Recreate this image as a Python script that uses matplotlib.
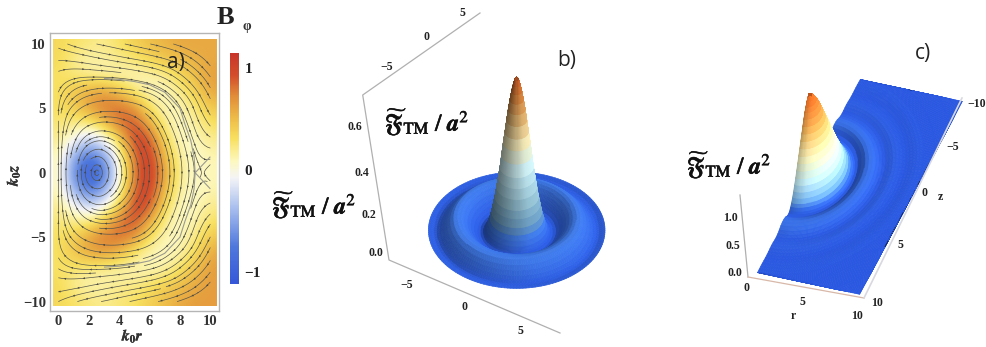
import numpy as np
import matplotlib
matplotlib.use('Agg')
import matplotlib.pyplot as plt
from matplotlib.colors import LinearSegmentedColormap, Normalize
from matplotlib.patches import Rectangle
from matplotlib.patheffects import withStroke
from mpl_toolkits.mplot3d import Axes3D

plt.rcParams['mathtext.fontset'] = 'stix'
plt.rcParams['font.family'] = 'Liberation Serif'

W, H = 986, 347

# panel a: B_phi, rows from z=10 down to z=-10
r_grid = [0, 1, 2, 3, 4, 5, 6, 7, 8, 9, 10]
z_grid = [10, 8.75, 7.5, 6.25, 5, 3.75, 2.5, 1.25, 0, -1.25, -2.5, -3.75, -5, -6.25, -7.5, -8.75, -10]
b_phi = [
    [.35, .30, .25, .20, .30, .40, .50, .55, .60, .60, .60],
    [.35, .20, .12, .15, .20, .25, .35, .45, .50, .55, .60],
    [.30, .25, .20, .15, .12, .10, .12, .18, .35, .50, .65],
    [.30, .45, .60, .65, .50, .25, .10, .08, .20, .40, .60],
    [.30, .40, .62, .80, .85, .70, .30, .10, .10, .25, .45],
    [.25, .20, .20, .42, .80, .95, .60, .18, .07, .15, .30],
    [.20, -.05, -.30, -.10, .35, 1.00, .95, .35, .07, .08, .20],
    [.12, -.45, -.80, -.55, .05, .85, 1.05, .50, .15, .05, .12],
    [.10, -.60, -1.05, -.75, -.05, .80, 1.10, .60, .18, .05, .10],
    [.12, -.45, -.80, -.55, .05, .85, 1.05, .50, .15, .05, .12],
    [.20, -.05, -.30, -.10, .35, 1.00, .95, .35, .07, .08, .20],
    [.25, .20, .20, .42, .80, .95, .60, .18, .07, .12, .30],
    [.30, .40, .62, .80, .85, .70, .30, .10, .08, .22, .45],
    [.30, .45, .60, .65, .50, .25, .10, .07, .12, .35, .60],
    [.30, .25, .20, .15, .12, .10, .10, .15, .30, .50, .65],
    [.35, .20, .12, .15, .20, .22, .30, .40, .50, .60, .65],
    [.35, .30, .25, .20, .25, .30, .40, .50, .60, .65, .65],
]
# stream function of the field lines, same grid
psi_lines = [
    [1.20, 1.24, 1.28, 1.30, 1.33, 1.36, 1.39, 1.42, 1.46, 1.50, 1.53],
    [1.12, 1.12, 1.15, 1.17, 1.20, 1.22, 1.25, 1.28, 1.33, 1.40, 1.47],
    [1.05, 1.02, 1.02, 1.02, 1.03, 1.05, 1.08, 1.12, 1.20, 1.30, 1.40],
    [1.02, .95, .90, .88, .88, .90, .93, 1.00, 1.08, 1.18, 1.32],
    [1.00, .85, .75, .72, .72, .75, .80, .90, 1.00, 1.12, 1.25],
    [1.00, .70, .55, .52, .55, .62, .72, .83, .96, 1.08, 1.18],
    [1.00, .55, .32, .32, .40, .50, .63, .77, .90, 1.04, 1.08],
    [1.00, .42, .12, .18, .30, .43, .57, .72, .87, 1.01, 1.00],
    [1.00, .35, .02, .10, .25, .40, .55, .70, .85, 1.00, .95],
    [1.00, .42, .12, .18, .30, .43, .57, .72, .87, 1.01, 1.00],
    [1.00, .55, .32, .32, .40, .50, .63, .77, .90, 1.04, 1.08],
    [1.00, .70, .55, .52, .55, .62, .72, .83, .96, 1.08, 1.18],
    [1.00, .85, .75, .72, .72, .75, .80, .90, 1.00, 1.12, 1.25],
    [1.02, .95, .90, .88, .88, .90, .93, 1.00, 1.08, 1.18, 1.32],
    [1.05, 1.02, 1.02, 1.02, 1.03, 1.05, 1.08, 1.12, 1.20, 1.30, 1.40],
    [1.12, 1.12, 1.15, 1.17, 1.20, 1.22, 1.25, 1.28, 1.33, 1.40, 1.47],
    [1.20, 1.24, 1.28, 1.30, 1.33, 1.36, 1.39, 1.42, 1.46, 1.50, 1.53],
]
a_xticks = [0, 2, 4, 6, 8, 10]
a_yticks = [-10, -5, 0, 5, 10]
cbar_ticks = [-1, 0, 1]

# panel b: radial profile of the surface
rho_b = [0, .15, .3, .45, .6, .75, .9, 1.05, 1.2, 1.35, 1.5, 1.65, 1.8, 1.95, 2.1, 2.25, 2.4, 2.55, 2.7, 2.85,
         3.0, 3.3, 3.6, 3.9, 4.2, 4.5, 4.8, 5.1, 5.4, 5.7, 6.0, 6.3, 6.6, 6.9, 7.2, 7.5, 7.8, 8.0]
f_b = [.700, .692, .668, .638, .600, .558, .510, .458, .410, .356, .300, .256, .212, .168, .135, .100, .072, .050,
       .030, .016, .008, .006, .012, .024, .038, .052, .064, .070, .072, .068, .056, .042, .028, .016, .010, .012,
       .016, .016]

# panel c: radial profile, cut along r=0 and by the square edges
rho_c = [0, .2, .4, .6, .8, 1.0, 1.2, 1.4, 1.6, 1.8, 2.0, 2.2, 2.4, 2.6, 2.8, 3.0, 3.2, 3.4, 3.6, 3.8, 4.0, 4.3, 4.6,
         4.9, 5.2, 5.5, 5.8, 6.1, 6.4, 6.7, 7.0, 7.3, 7.6, 7.9, 8.2, 8.5, 8.8, 9.1, 9.4, 9.7, 10.0, 11.0, 12.5, 14.2]
f_c = [1.20, 1.18, 1.15, 1.10, 1.05, .98, .90, .82, .74, .66, .58, .50, .42, .34, .27, .20, .14, .09, .05, .02, .01,
       .02, .05, .06, .06, .05, .03, .015, .008, .010, .016, .018, .014, .008, .004, .004, .006, .008, .008, .006,
       .004, .002, 0, 0]

b_ticks_z = ['0.6', '0.4', '0.2', '0.0']
b_ticks_top = ['\u22125', '0', '5']
b_ticks_bottom = ['\u22125', '0', '5']
c_ticks_z = ['1.0', '0.5', '0.0']
c_ticks_r = ['0', '5', '10']
c_ticks_z_right = ['10', '5', '0', '\u22125', '\u221210']

bphi_cmap = LinearSegmentedColormap.from_list('bphi', [
    (0.00, '#3557d8'), (0.16, '#4f78dc'), (0.33, '#a9bfee'), (0.46, '#f4f4f6'), (0.53, '#fdf8c0'),
    (0.63, '#f8e060'), (0.72, '#edbb48'), (0.82, '#e08a38'), (0.90, '#d4502c'), (1.00, '#c8352a')])
surf_cmap_b = LinearSegmentedColormap.from_list('surfb', [
    (0.00, '#2a58dc'), (0.10, '#3f7ae8'), (0.16, '#6598c0'), (0.30, '#93bfd0'), (0.50, '#c8ecf4'),
    (0.66, '#efe3b0'), (0.80, '#d9ad6c'), (0.93, '#cc7a36'), (1.00, '#c8602a')])
surf_cmap_c = LinearSegmentedColormap.from_list('surfc', [
    (0.00, '#2a58e0'), (0.05, '#3a72e8'), (0.12, '#78b8f2'), (0.28, '#c4eef8'), (0.50, '#f6f0b8'),
    (0.72, '#f2bc60'), (1.00, '#e86c24')])


def axes_px(fig, x0, y0, x1, y1):
    # y measured from the top of the picture
    return fig.add_axes([x0 / W, 1 - y1 / H, (x1 - x0) / W, (y1 - y0) / H])


def add_3d(fig, cx, cy, side, box_px, elev, azim):
    # square 3D axes whose box edges come out at box_px pixels, box centre at (cx, cy)
    left = cx - 0.5135 * side
    top = cy - (1 - 0.5135) * side
    ax = fig.add_axes([left / W, 1 - (top + side) / H, side / W, side / H], projection='3d', proj_type='ortho')
    ax.set_box_aspect(box_px, zoom=np.linalg.norm(box_px) / (1.0301 * side))
    ax.view_init(elev=elev, azim=azim)
    ax.set_axis_off()
    ax.patch.set_alpha(0)
    return ax


def shaded_colors(X, Y, Z, cmap, zmax, light, sx, sy, sz):
    # colour by height, then darken or lighten by the surface normal
    dzdi, dzdj = np.gradient(Z * sz)
    dxdi, dxdj = np.gradient(X * sx)
    dydi, dydj = np.gradient(Y * sy)
    n = np.cross(np.stack([dxdi, dydi, dzdi], -1), np.stack([dxdj, dydj, dzdj], -1))
    n /= np.maximum(np.linalg.norm(n, axis=-1, keepdims=True), 1e-9)
    n = n * np.sign(n[..., 2:3] + 1e-12)
    shade = 0.8 + 0.2 * n[..., 2] + light[0] * n[..., 0] + light[1] * n[..., 1]
    shade = np.where(shade > 1, 1 + (shade - 1) * 0.4, shade)
    shade = np.clip(shade, 0.5, 1.2)
    rgba = cmap(np.clip(Z / zmax, 0, 1))
    rgb = rgba[..., :3] * shade[..., None]
    rgba[..., :3] = np.clip(rgb, 0, 1)
    return rgba


def draw_surface(ax, X, Y, Z, colors):
    surf = ax.plot_surface(X, Y, Z, facecolors=colors, rstride=1, cstride=1, shade=False, linewidth=0.5)
    # edges in the same colour as the faces, else hairlines show between facets
    surf.set_edgecolor(colors[:-1, :-1].reshape(-1, 4))
    return surf


fig = plt.figure(figsize=(W / 100, H / 100), dpi=100)

# ---- panel a
ax = axes_px(fig, 50, 33, 219, 311)
B = np.array(b_phi)[::-1]
z_up = np.array(z_grid)[::-1]
r_arr = np.array(r_grid, dtype=float)
norm = Normalize(-1.12, 1.15)
im = ax.imshow(B, origin='lower', extent=[-.5, 10.5, -10.625, 10.625], cmap=bphi_cmap, norm=norm,
               interpolation='bicubic', aspect='auto')
im.set_clip_path(Rectangle((-.33, -10.35), 10.73, 20.7, transform=ax.transData))
psi = np.array(psi_lines)[::-1]
dpsi_dz, dpsi_dr = np.gradient(psi, z_up, r_arr)
sp = ax.streamplot(r_arr, z_up, dpsi_dz, -dpsi_dr, density=(1.1, 1.6), color='#55554c', linewidth=0.5,
                   arrowsize=0.01, minlength=0.2)
# small arrowheads at regular steps along the field lines
ax_pts, ax_dir = [], []
for line in sp.lines.get_segments():
    if len(line) < 2:
        continue
    step = np.diff(line, axis=0)
    dist = np.cumsum(np.hypot(step[:, 0], step[:, 1]))
    for d in np.arange(0.6, dist[-1], 1.2):
        i = min(np.searchsorted(dist, d), len(step) - 1)
        ax_pts.append(line[i])
        ax_dir.append(step[i] / max(np.hypot(*step[i]), 1e-9))
ax_pts = np.array(ax_pts)
ax_dir = np.array(ax_dir)
ax.quiver(ax_pts[:, 0], ax_pts[:, 1], ax_dir[:, 0], ax_dir[:, 1], angles='xy', pivot='mid', scale=70, width=0.009,
          headwidth=3, headlength=3.5, headaxislength=3, color='#2e2e2a')
ax.contour(r_arr[3:], z_up, psi[:, 3:], levels=[1.0], colors='#9a9a90', linewidths=0.8)
ax.set_xlim(-.55, 10.57)
ax.set_ylim(-10.73, 10.85)
ax.set_xticks(a_xticks)
ax.set_yticks(a_yticks)
ax.set_yticklabels([str(t).replace('-', '\u2212') for t in a_yticks])
ax.tick_params(length=0, labelsize=10.5, pad=3)
for lab in ax.get_xticklabels() + ax.get_yticklabels():
    lab.set_fontweight('bold')
    lab.set_color('#333333')
for s in ax.spines.values():
    s.set_color('#b5b5b5')
    s.set_linewidth(1.0)

cax = axes_px(fig, 230, 53, 239, 284)
cb = fig.colorbar(im, cax=cax, ticks=cbar_ticks)
cb.outline.set_visible(False)
cb.ax.set_yticklabels(['\u22121', '0', '1'])
cb.ax.tick_params(length=0, labelsize=11, pad=4)
for lab in cb.ax.get_yticklabels():
    lab.set_fontweight('bold')
    lab.set_color('#222222')

# ---- panel b
rb = np.array(rho_b)
fb = np.array(f_b)
th = np.linspace(0, 2 * np.pi, 181)
RR, TT = np.meshgrid(rb, th)
Xb = RR * np.cos(TT)
Yb = RR * np.sin(TT)
Zb = np.tile(fb, (len(th), 1))
box_b = (176.6, 176.6, 2 * 208.0)
ax_b = add_3d(fig, 516.7, 233.8, 430, box_b, 41.2, -60)
ax_b.set_xlim(-8, 8)
ax_b.set_ylim(-8, 8)
ax_b.set_zlim(-.7, .7)
col_b = shaded_colors(Xb, Yb, Zb, surf_cmap_b, .7, (0.30, 0.15), 176.6 / 16, 176.6 / 16, 208 / .7)
draw_surface(ax_b, Xb, Yb, Zb, col_b)

# ---- panel c
rc = np.array(rho_c)
fc = np.array(f_c)
th_c = np.linspace(-np.pi / 2, np.pi / 2, 181)
RR, TT = np.meshgrid(rc, th_c)
Xc = np.clip(RR * np.cos(TT), 0, 10)
Yc = np.clip(RR * np.sin(TT), -10, 10)
Zc = np.tile(fc, (len(th_c), 1))
box_c = (107.6, 322.0, 2 * 106.0)
ax_c = add_3d(fig, 860, 187, 400, box_c, 39.2, -71.4)
ax_c.set_xlim(0, 10)
ax_c.set_ylim(-10, 10)
ax_c.set_zlim(-1.2, 1.2)
col_c = shaded_colors(Xc, Yc, Zc, surf_cmap_c, 1.2, (0.55, 0.15), 10.76, 16.1, 106 / 1.2)
draw_surface(ax_c, Xc, Yc, Zc, col_c)

# ---- overlay in picture pixels: axis lines of the 3D boxes and all loose text
ov = fig.add_axes([0, 0, 1, 1], zorder=10)
ov.set_xlim(0, W)
ov.set_ylim(H, 0)
ov.set_axis_off()
ov.patch.set_alpha(0)

grey = '#b0b0b0'
ov.plot([480, 362.7, 389, 560], [13, 95, 260, 333], color=grey, lw=0.9)
ov.plot([740, 748], [195, 277], color=grey, lw=0.9)
ov.plot([748, 864], [277, 298], color='#d8b8a8', lw=0.9)
ov.plot([864, 962], [298, 98], color='#d8d8e0', lw=1.2)


def tick(x, y, s, size=8.5):
    ov.text(x, y, s, ha='center', va='center', fontsize=size, fontweight='bold', color='#222222')


for (x, y), s in zip([(355, 127), (362, 173), (369, 215), (376, 253)], b_ticks_z):
    tick(x, y, s)
for (x, y), s in zip([(387, 67), (427, 37), (462, 13)], b_ticks_top):
    tick(x, y, s)
for (x, y), s in zip([(407, 285), (464, 307), (520, 331)], b_ticks_bottom):
    tick(x, y, s)
for (x, y), s in zip([(730, 218), (733, 246), (735, 273)], c_ticks_z):
    tick(x, y, s)
for (x, y), s in zip([(746, 288), (802, 302), (857, 316)], c_ticks_r):
    tick(x, y, s)
for (x, y), s in zip([(877, 303), (900, 245), (925, 193), (953, 147), (977, 104)], c_ticks_z_right):
    tick(x, y, s)
tick(793, 316, 'r')
tick(940, 197, 'z')

label_f = r'$\widetilde{\mathfrak{F}}_{\mathrm{TM}}\ /\ \mathbfit{a}^{2}$'
for x, y in [(385, 122), (272, 205), (687, 165)]:
    ov.text(x, y, label_f, ha='left', va='center', fontsize=17, color='#111111',
            path_effects=[withStroke(linewidth=0.4, foreground='#111111')])

ov.text(225, 17, 'B', ha='center', va='center', fontsize=19, fontweight='bold', color='#222222')
ov.text(247, 26, '\u03c6', ha='center', va='center', fontsize=10, fontweight='bold', color='#333333')
ov.text(13, 175, r'$\mathbfit{k}_{\mathbf{0}}\mathbfit{z}$', rotation=90, ha='center', va='center',
        fontsize=11, color='#333333', path_effects=[withStroke(linewidth=0.3, foreground='#333333')])
ov.text(133, 336, r'$\mathbfit{k}_{\mathbf{0}}\mathbfit{r}$', ha='center', va='center', fontsize=11,
        color='#333333', path_effects=[withStroke(linewidth=0.3, foreground='#333333')])
for x, y, s in [(176, 62, 'a)'), (567, 60, 'b)'), (923, 53, 'c)')]:
    ov.text(x, y, s, ha='center', va='center', fontsize=15, family='Open Sans', color='#222222')

plt.savefig('out.png', dpi=100)
plt.close(fig)
